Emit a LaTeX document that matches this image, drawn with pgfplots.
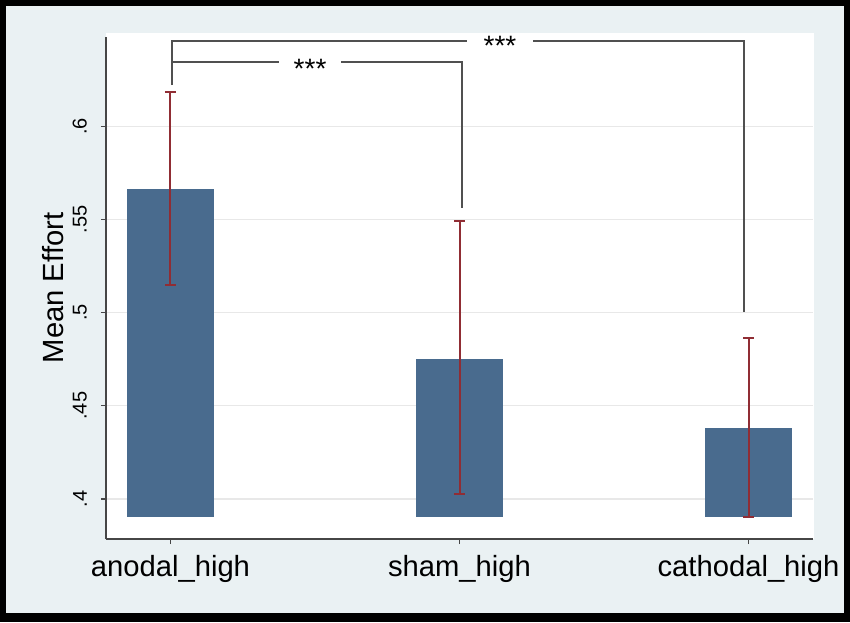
\documentclass[border=0pt]{standalone}
\usepackage{pgfplots}
\pgfplotsset{compat=1.18}
\usepackage{fontspec}
\setmainfont{Liberation Sans}
\definecolor{bgblue}{RGB}{234,241,243}
\definecolor{barblue}{RGB}{73,107,142}
\definecolor{errred}{RGB}{144,45,52}
\definecolor{axisgray}{RGB}{70,70,70}
\definecolor{gridgray}{RGB}{232,232,232}
\definecolor{bracketgray}{RGB}{80,80,80}
\begin{document}
\begin{tikzpicture}
\begin{scope}[x=0.5pt,y=0.5pt]
\fill[black] (0,0) rectangle (850,622);
\fill[bgblue] (6,9) rectangle (844,616);
\fill[white] (106,83) rectangle (814,589);
\end{scope}
\begin{axis}[
  at={(53pt,41.5pt)}, anchor=south west,
  scale only axis, width=353.5pt, height=251pt,
  xmin=-0.223, xmax=2.223, ymin=0.3785, ymax=0.6479,
  axis lines*=left,
  axis line style={-, draw=axisgray, line width=0.75pt},
  tick align=outside, major tick length=2.5pt,
  tick style={draw=axisgray, line width=0.6pt},
  xtick={0,1,2}, xticklabels={anodal\_high, sham\_high, cathodal\_high},
  ytick={0.4,0.45,0.5,0.55,0.6}, yticklabels={.4,.45,.5,.55,.6},
  ymajorgrids, grid style={draw=gridgray, line width=0.6pt},
  xticklabel style={font=\fontsize{14.6}{17}\selectfont},
  xticklabel shift=2pt,
  yticklabel style={font=\fontsize{10}{12}\selectfont, rotate=90, anchor=south},
  yticklabel shift=3.5pt,
  every axis y label/.style={at={(axis description cs:-0.075,0.5)}, rotate=90, anchor=center, font=\fontsize{14.6}{17}\selectfont},
  ylabel={Mean Effort},
  clip=false,
]
% bars (base at 0.3903)
\addplot[fill=barblue, draw=none] coordinates {(-0.1505,0.3903) (-0.1505,0.5663) (0.1505,0.5663) (0.1505,0.3903)} -- cycle;
\addplot[fill=barblue, draw=none] coordinates {(0.8505,0.3903) (0.8505,0.4751) (1.1505,0.4751) (1.1505,0.3903)} -- cycle;
\addplot[fill=barblue, draw=none] coordinates {(1.8505,0.3903) (1.8505,0.4381) (2.1505,0.4381) (2.1505,0.3903)} -- cycle;
% error bars
\addplot[draw=none, mark=none, forget plot,
  error bars/.cd, y dir=both, y explicit,
  error bar style={draw=errred, line width=1pt},
  error mark options={draw=errred, line width=1.3pt, mark size=2.75pt, rotate=90}]
  coordinates {
  (0,0.5663) += (0,0.0521) -= (0,0.0515)
  (1,0.4751) += (0,0.0740) -= (0,0.0724)
  (2,0.4381) += (0,0.0483) -= (0,0.0478)
  };
% significance brackets
\addplot[bracketgray, line width=0.8pt] coordinates {(0.005,0.6221) (0.005,0.6457) (1.985,0.6457) (1.985,0.5003)};
\addplot[bracketgray, line width=0.8pt] coordinates {(0.005,0.6344) (1.009,0.6344) (1.009,0.5561)};
\node[fill=white, inner xsep=8.4pt, inner ysep=1pt, anchor=base, font=\fontsize{14}{16}\selectfont] at (axis cs:1.14,0.6378) {***};
\node[fill=white, inner xsep=7.2pt, inner ysep=1pt, anchor=base, font=\fontsize{14}{16}\selectfont] at (axis cs:0.483,0.6257) {***};
\end{axis}
\end{tikzpicture}
\end{document}
